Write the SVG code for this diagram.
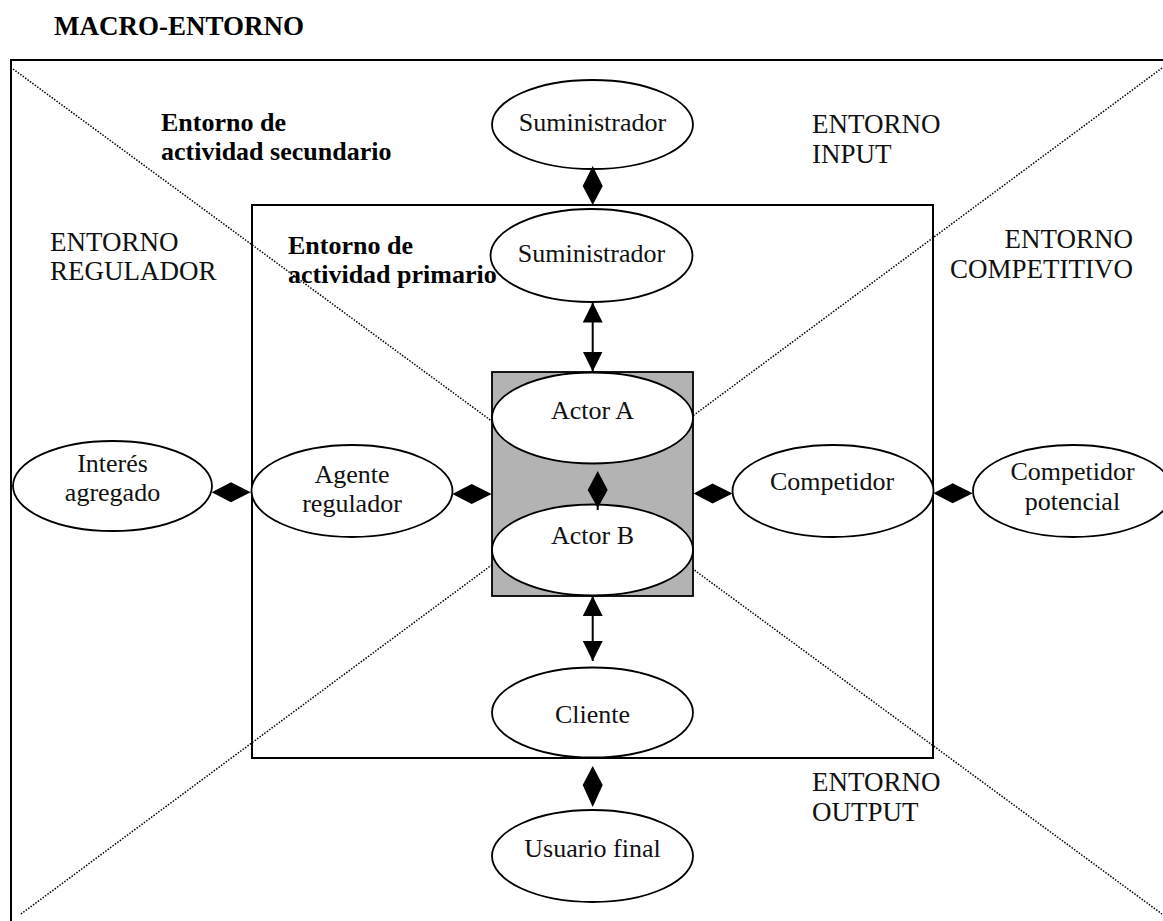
<svg xmlns="http://www.w3.org/2000/svg" width="1163" height="921" viewBox="0 0 1163 921">
  <style>
    .frame { fill: none; stroke: #000; stroke-width: 2; }
    .diag { fill: none; stroke: #000; stroke-width: 1.5; stroke-dasharray: 1.5 1.5; }
    .node { fill: #fff; stroke: #000; stroke-width: 1.8; }
    .core { fill: #b3b3b3; stroke: #000; stroke-width: 1.8; }
    text { font-family: 'Liberation Serif', 'Tinos', 'Times New Roman', 'DejaVu Serif', serif; fill: #111; }
    .lbl { font-size: 26px; }
    .zone { font-size: 27px; }
    .head { font-size: 26px; font-weight: bold; fill: #000; }
    .title { font-size: 27px; }
    .mid { text-anchor: middle; }
    .end { text-anchor: end; }
    .link { stroke: #000; stroke-width: 2; fill: none; }
    .dia { fill: #000; stroke: none; }
  </style>
  <defs>
    <marker id="tri" viewBox="0 0 20 20" refX="20" refY="10" markerWidth="20" markerHeight="20" markerUnits="userSpaceOnUse" orient="auto-start-reverse">
      <path d="M0,0 L20,10 L0,20 Z" fill="#000"/>
    </marker>
  </defs>

  <rect width="1163" height="921" fill="#fff"/>

  <!-- environment frames -->
  <g id="macro-frame">
    <rect class="frame" x="11" y="60" width="1200" height="900"/>
    <line class="diag" x1="13" y1="69" x2="1162" y2="914"/>
    <line class="diag" x1="1162" y1="68" x2="21" y2="914"/>
  </g>
  <g id="primary-frame">
    <rect class="frame" x="252" y="205" width="681" height="553"/>
  </g>

  <!-- headings and zone labels -->
  <g id="titles">
    <text class="head title" x="54" y="35">MACRO-ENTORNO</text>
    <text class="head" x="161" y="131">Entorno de</text>
    <text class="head" x="161" y="160">actividad secundario</text>
    <text class="head" x="288" y="254">Entorno de</text>
    <text class="head" x="288" y="283">actividad primario</text>
  </g>
  <g id="zones">
    <text class="zone" x="50" y="251">ENTORNO</text>
    <text class="zone" x="50" y="280">REGULADOR</text>
    <text class="zone" x="812" y="133">ENTORNO</text>
    <text class="zone" x="812" y="163">INPUT</text>
    <text class="zone end" x="1133" y="248">ENTORNO</text>
    <text class="zone end" x="1133" y="278">COMPETITIVO</text>
    <text class="zone" x="812" y="791">ENTORNO</text>
    <text class="zone" x="812" y="821">OUTPUT</text>
  </g>

  <!-- central pair -->
  <g id="core">
    <rect class="core" x="492" y="372" width="201" height="224"/>
  </g>
  <g id="actor-a">
    <ellipse class="node" cx="592.5" cy="418" rx="100.5" ry="45.5"/>
    <text class="lbl mid" x="592.5" y="419">Actor A</text>
  </g>
  <g id="actor-b">
    <ellipse class="node" cx="592.5" cy="550" rx="100.5" ry="45.5"/>
    <text class="lbl mid" x="592.5" y="544">Actor B</text>
  </g>

  <!-- surrounding nodes -->
  <g id="suministrador-ext">
    <ellipse class="node" cx="592.5" cy="124.5" rx="100.5" ry="44.5"/>
    <text class="lbl mid" x="592.5" y="131">Suministrador</text>
  </g>
  <g id="suministrador">
    <ellipse class="node" cx="591.5" cy="255.5" rx="101" ry="46.5"/>
    <text class="lbl mid" x="591.5" y="262">Suministrador</text>
  </g>
  <g id="interes-agregado">
    <ellipse class="node" cx="112.5" cy="486" rx="99.5" ry="45"/>
    <text class="lbl mid" x="112.5" y="472">Interés</text>
    <text class="lbl mid" x="112.5" y="501">agregado</text>
  </g>
  <g id="agente-regulador">
    <ellipse class="node" cx="352" cy="491" rx="100.5" ry="46"/>
    <text class="lbl mid" x="352" y="483">Agente</text>
    <text class="lbl mid" x="352" y="512">regulador</text>
  </g>
  <g id="competidor">
    <ellipse class="node" cx="833" cy="491" rx="100.5" ry="46"/>
    <text class="lbl mid" x="832" y="490">Competidor</text>
  </g>
  <g id="competidor-potencial">
    <ellipse class="node" cx="1073" cy="491" rx="100" ry="46"/>
    <text class="lbl mid" x="1072.5" y="480">Competidor</text>
    <text class="lbl mid" x="1072.5" y="510">potencial</text>
  </g>
  <g id="cliente">
    <ellipse class="node" cx="592.5" cy="712.5" rx="100.5" ry="45"/>
    <text class="lbl mid" x="592.5" y="723">Cliente</text>
  </g>
  <g id="usuario-final">
    <ellipse class="node" cx="592.5" cy="856" rx="100.5" ry="46"/>
    <text class="lbl mid" x="592.5" y="857">Usuario final</text>
  </g>

  <!-- connectors -->
  <g id="connectors">
    <!-- two-way arrows -->
    <line class="link" x1="592.7" y1="302.5" x2="592.7" y2="371.5" marker-start="url(#tri)" marker-end="url(#tri)"/>
    <line class="link" x1="592.7" y1="596" x2="592.7" y2="661" marker-start="url(#tri)" marker-end="url(#tri)"/>
    <!-- diamond links -->
    <polygon class="dia" points="592.7,166 602.7,186 592.7,205 582.7,186"/>
    <polygon class="dia" points="597.7,471 607.7,490 597.7,508 587.7,490"/>
    <line class="link" x1="597.7" y1="505" x2="597.7" y2="510"/>
    <polygon class="dia" points="592.7,766 602.7,785 592.7,807 582.7,785"/>
    <polygon class="dia" points="211.7,492.3 231,482.3 250.7,492.3 231,502.3"/>
    <polygon class="dia" points="452.3,494 471.7,484 491.7,494 471.7,504"/>
    <polygon class="dia" points="693.5,493.5 712.5,483.5 732.5,493.5 712.5,503.5"/>
    <polygon class="dia" points="933.3,493.3 952.7,483.3 972.7,493.3 952.7,503.3"/>
  </g>
</svg>
